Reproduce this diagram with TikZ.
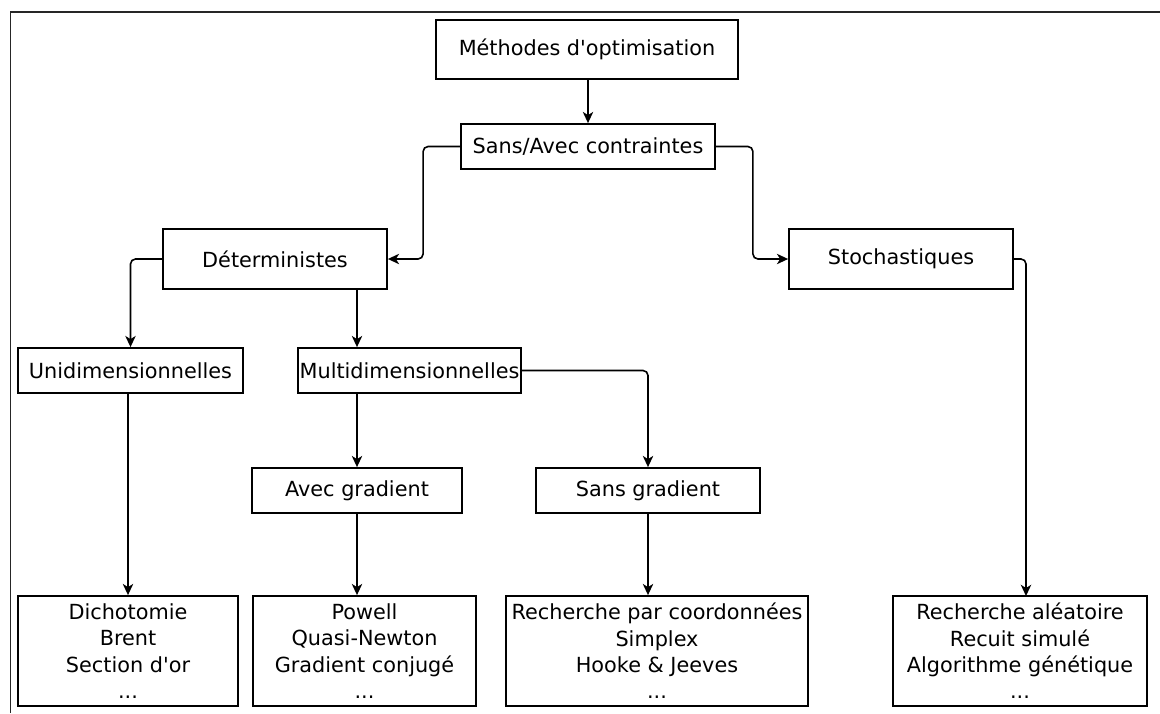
\documentclass[tikz,border=0pt]{standalone}
\usepackage{fontspec}
\setmainfont{DejaVu Sans}
\usetikzlibrary{arrows.meta}
\tikzset{
  box/.style={draw=black, line width=0.9pt, inner sep=0pt, align=center,
    font=\fontsize{10.4}{13.2}\selectfont},
  arr/.style={line width=0.8pt, rounded corners=2.5pt,
    -{Stealth[length=5.6pt,width=5.2pt,inset=1.6pt]}},
  ln/.style={line width=0.8pt, rounded corners=2.5pt}
}
\begin{document}
\begin{tikzpicture}[x=0.5pt,y=-0.5pt]
\useasboundingbox (0,0) rectangle (1160,713);
\draw[line width=0.6pt, black!85] (10.5,713) -- (10.5,12) -- (1160,12);

\node[box, minimum width=151pt, minimum height=29.5pt] (M) at (587,49.5) {Méthodes d\textquotesingle optimisation};
\node[box, minimum width=127pt, minimum height=22.5pt] (S) at (588,146.5) {Sans/Avec contraintes};
\node[box, minimum width=112pt, minimum height=30pt] (D) at (275,259) {Déterministes};
\node[box, minimum width=112pt, minimum height=30pt] (St) at (901,259) {Stochastiques};
\node[box, minimum width=112.5pt, minimum height=22.5pt] (U) at (130.5,370.5) {Unidimensionnelles};
\node[box, minimum width=111.5pt, minimum height=22.5pt] (Mu) at (409.5,370.5) {Multidimensionnelles};
\node[box, minimum width=105pt, minimum height=22.5pt] (A) at (357,490.5) {Avec gradient};
\node[box, minimum width=112pt, minimum height=22.5pt] (Sg) at (648,490.5) {Sans gradient};
\node[box, minimum width=110pt, minimum height=55pt] (Di) at (128,651) {Dichotomie\\Brent\\Section d\textquotesingle or\\...};
\node[box, minimum width=111.5pt, minimum height=55pt] (Po) at (364.5,651) {Powell\\Quasi-Newton\\Gradient conjugé\\...};
\node[box, minimum width=151pt, minimum height=55pt] (Re) at (657,651) {Recherche par coordonnées\\Simplex\\Hooke \& Jeeves\\...};
\node[box, minimum width=127pt, minimum height=55pt] (SL) at (1020,651) {Recherche aléatoire\\Recuit simulé\\Algorithme génétique\\...};

\coordinate (sle) at (1026,596);

\draw[arr] (M.south -| S.north) -- (S.north);
\draw[arr] (S.west) -- ++(-37,0) |- (D.east);
\draw[arr] (S.east) -- ++(37,0) |- (St.west);
\draw[arr] (D.west) -| (U.north);
\draw[arr] (D.south -| A.north) -- (Mu.north -| A.north);
\draw[arr] (Mu.south -| A.north) -- (A.north);
\draw[arr] (Mu.east) -| (Sg.north);
\draw[arr] (U.south -| Di.north) -- (Di.north);
\draw[arr] (A.south) -- (A.south |- Po.north);
\draw[arr] (Sg.south) -- (Sg.south |- Re.north);
\draw[arr] (St.east) -| (sle);
\end{tikzpicture}
\end{document}
